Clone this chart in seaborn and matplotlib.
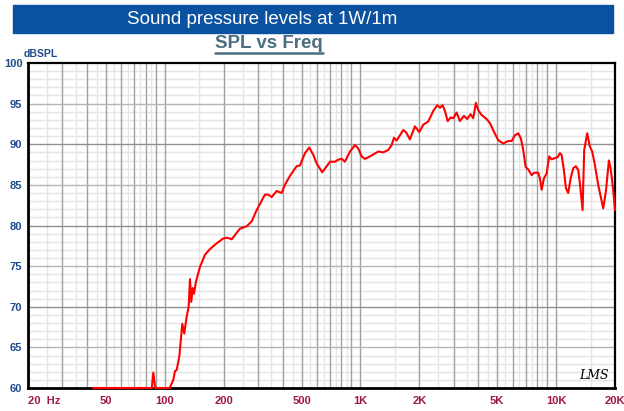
import matplotlib
matplotlib.use("Agg")
import matplotlib.pyplot as plt
from matplotlib.patches import Rectangle
from matplotlib.lines import Line2D
import seaborn as sns
import pandas as pd
import numpy as np

freq = [43, 60, 85.8, 87.4, 89.4, 106, 110.5, 112.8, 115, 118.7, 122.9, 125.8, 129.4,
        132.5, 134.5, 136.6, 138.9, 141, 144.4, 151.3, 160.5, 170.2, 184, 199, 208.6,
        219.8, 242, 262, 278, 295, 325, 338, 352, 373, 396, 411, 436, 472, 491, 520.6,
        547.6, 574, 597, 638, 699, 741, 770, 802, 833, 884, 938, 974, 1014, 1054, 1118,
        1233, 1308, 1388, 1444, 1484, 1531, 1592, 1655, 1708, 1790, 1899, 1998, 2094,
        2221, 2356, 2469, 2550, 2631, 2703, 2791, 2891, 2980, 3102, 3224, 3380, 3515,
        3658, 3771, 3893, 4000, 4163, 4416, 4590, 4811, 5061, 5368, 5693, 5925, 6158,
        6405, 6610, 6792, 6986, 7203, 7499, 7730, 8104, 8266, 8433, 8664, 8944, 9222,
        9485, 9862, 10180, 10458, 10670, 10964, 11226, 11534, 11864, 12232, 12626,
        12972, 13232, 13660, 13920, 14421, 14885, 15293, 15788, 16412, 17408, 17968,
        18612, 18990, 19581, 20000]
spl = [60, 60, 60, 61.9, 60, 60, 61.0, 62.1, 62.2, 63.9, 67.9, 66.7, 68.8,
       70.0, 73.4, 70.6, 72.3, 71.6, 73.1, 74.9, 76.4, 77.1, 77.8, 78.4, 78.5,
       78.3, 79.6, 79.9, 80.5, 81.9, 83.8, 83.8, 83.5, 84.25, 84.0, 85.0, 86.1, 87.3, 87.4, 88.9,
       89.6, 88.7, 87.65, 86.55, 87.85, 87.85, 88.1, 88.2, 87.85, 89.1, 89.9, 89.5, 88.5, 88.2, 88.5,
       89.1, 89.0, 89.3, 89.9, 90.8, 90.45, 91.1, 91.75, 91.5, 90.6, 92.2, 91.5, 92.4,
       92.8, 94.1, 94.8, 94.5, 94.8, 94.1, 92.85, 93.3, 93.2, 93.9, 92.85, 93.5, 93.1,
       93.7, 93.2, 95.1, 94.2, 93.6, 93.1, 92.6, 91.55, 90.5, 90.1, 90.4, 90.4, 91.1,
       91.35, 90.7, 89.3, 87.2, 86.9, 86.2, 86.5, 86.5, 85.8, 84.4, 85.8, 86.4, 88.5,
       88.15, 88.3, 88.4, 88.9, 88.7, 86.8, 84.6, 84.0, 85.8, 87.05, 87.3,
       86.8, 85.2, 81.9, 89.3, 91.35, 89.7, 89.1, 87.45, 85.0, 82.1, 84.2,
       88.0, 87.05, 84.4, 81.9]

x_ticks = [20, 50, 100, 200, 500, 1000, 2000, 5000, 10000, 20000]
x_labels = ["20  Hz", "50", "100", "200", "500", "1K", "2K", "5K", "10K", "20K"]
y_ticks = [60, 65, 70, 75, 80, 85, 90, 95, 100]
y_labels = [str(v) for v in y_ticks]

title = "Sound pressure levels at 1W/1m"
subtitle = "SPL vs Freq"
y_unit = "dBSPL"

sns.set_style("white")
plt.rcParams['font.family'] = ['Liberation Sans', 'DejaVu Sans']

W, H = 624, 411
fig = plt.figure(figsize=(W / 100, H / 100), dpi=100)
ax = fig.add_axes([28 / W, 1 - 388 / H, (615 - 28) / W, (388 - 63) / H])

df = pd.DataFrame({"freq": freq, "spl": spl})

# grid
ax.set_xscale("log")
ax.set_xlim(20, 20000)
ax.set_ylim(60, 100)
for dec in [10, 100, 1000, 10000]:
    for m in range(1, 10):
        v = dec * m
        if 20 <= v <= 20000:
            ax.axvline(v, color="#a0a0a0", lw=1.0, zorder=1)
        vh = dec * (m + 0.5)
        if 20 < vh < 20000 and m < 9:
            ax.axvline(vh, color="#e5e5e5", lw=1.0, zorder=0.5)
for yv in range(61, 100):
    if yv % 5 == 0:
        col = "#8f8f8f" if yv % 10 == 0 else "#b5b5b5"
        ax.axhline(yv, color=col, lw=1.0, zorder=1)
    else:
        ax.axhline(yv, color="#e5e5e5", lw=1.0, zorder=0.5)

sns.lineplot(data=df, x="freq", y="spl", ax=ax, color="#ff0000", lw=1.5,
             estimator=None, sort=False, zorder=5, clip_on=False)

for s in ax.spines.values():
    s.set_color("black")
    s.set_linewidth(1.6)
    s.set_zorder(4)
ax.spines["left"].set_linewidth(2.0)
ax.spines["bottom"].set_linewidth(2.0)

ax.set_xticks(x_ticks)
ax.set_xticklabels(x_labels)
ax.xaxis.set_minor_locator(matplotlib.ticker.NullLocator())
ax.set_yticks(y_ticks)
ax.set_yticklabels(y_labels)
ax.tick_params(axis="both", length=0)
ax.tick_params(axis="x", pad=6, labelcolor="#a01848", labelsize=8)
ax.tick_params(axis="y", pad=4, labelcolor="#1e4b8c", labelsize=8)
for lab in ax.get_xticklabels() + ax.get_yticklabels():
    lab.set_fontweight("bold")
xl = ax.get_xticklabels()
xl[0].set_horizontalalignment("left")
ax.set_xlabel("")
ax.set_ylabel("")

# banner
fig.patches.append(Rectangle((13 / W, 1 - 33 / H), 600 / W, 28 / H,
                             transform=fig.transFigure, color="#0a52a0", zorder=0))
fig.text(262 / W, 1 - 19 / H, title, color="white", fontsize=13.5,
         ha="center", va="center", family=["Liberation Sans", "DejaVu Sans"])
st = fig.text(269 / W, 1 - 44 / H, subtitle, color="#4b6f80", fontsize=13.5,
              fontweight="bold", ha="center", va="center")
fig.text(24 / W, 1 - 54 / H, y_unit, color="#1e4b8c", fontsize=7.5,
         fontweight="bold", ha="left", va="center")
ax.text(0.965, 0.04, "LMS", transform=ax.transAxes, fontsize=9, style="italic",
        family=["DejaVu Serif"], ha="center", va="center", color="black", zorder=6)

fig.canvas.draw()
bb = st.get_window_extent()
uy = 1 - 53 / H
fig.lines.append(Line2D([bb.x0 / W, bb.x1 / W], [uy, uy], transform=fig.transFigure,
                        color="#4b6f80", lw=1.8))

fig.savefig("out.png", dpi=100)
